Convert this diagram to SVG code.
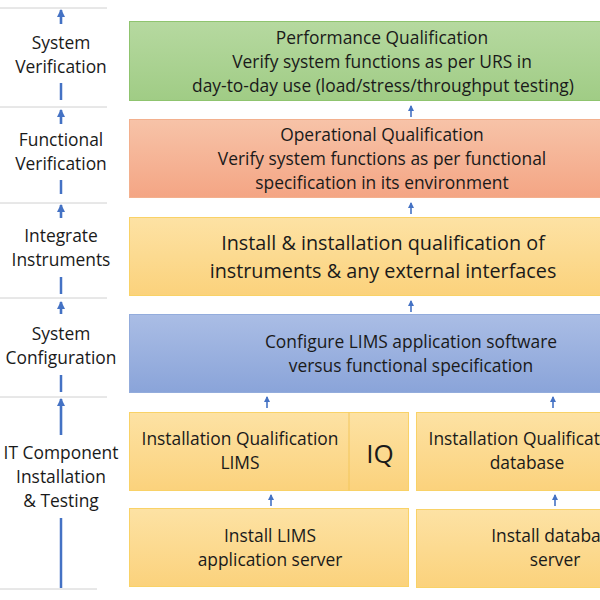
<svg xmlns="http://www.w3.org/2000/svg" width="600" height="600" viewBox="0 0 600 600">
<defs>
<linearGradient id="gGreen" x1="0" y1="0" x2="0" y2="1"><stop offset="0" stop-color="#b6d9a0"/><stop offset="1" stop-color="#a0cc85"/></linearGradient>
<linearGradient id="gRed" x1="0" y1="0" x2="0" y2="1"><stop offset="0" stop-color="#f7c3a8"/><stop offset="1" stop-color="#f4a584"/></linearGradient>
<linearGradient id="gYellow" x1="0" y1="0" x2="0" y2="1"><stop offset="0" stop-color="#fde2a4"/><stop offset="1" stop-color="#fbd27c"/></linearGradient>
<linearGradient id="gBlue" x1="0" y1="0" x2="0" y2="1"><stop offset="0" stop-color="#aabde5"/><stop offset="1" stop-color="#8aa4d9"/></linearGradient>
<marker id="ah" markerUnits="userSpaceOnUse" markerWidth="8" markerHeight="6" refX="5" refY="3" orient="auto"><path d="M0,0 L6,3 L0,6 Z" fill="#4472c4"/></marker>
<marker id="ahL" markerUnits="userSpaceOnUse" markerWidth="10" markerHeight="8" refX="7" refY="4" orient="auto"><path d="M0,0 L8,4 L0,8 Z" fill="#4472c4"/></marker>
</defs>
<style>
.t{font-family:"Open Sans","Liberation Sans",Arial,sans-serif;fill:#1a1a1a;text-anchor:middle}
.side{font-size:17.4px}
.box{font-size:17.4px}
.big{font-size:19.8px}
.sep{stroke:#d0d0d0;stroke-width:1}
.vl{stroke:#4472c4;stroke-width:2.5;fill:none}
.ar{stroke:#4472c4;stroke-width:1.6;fill:none;marker-end:url(#ah)}
.arL{stroke:#4472c4;stroke-width:2.6;fill:none;marker-end:url(#ahL)}
</style>
<rect width="600" height="600" fill="#ffffff"/>

<g id="left-column">
<line class="sep" x1="0" y1="8" x2="107" y2="8"/>
<line class="sep" x1="0" y1="107" x2="107" y2="107"/>
<line class="sep" x1="0" y1="203" x2="107" y2="203"/>
<line class="sep" x1="0" y1="298" x2="107" y2="298"/>
<line class="sep" x1="0" y1="397" x2="107" y2="397"/>
<line class="sep" x1="0" y1="589" x2="97" y2="589"/>
</g>

<g id="connectors">
<line class="arL" x1="61" y1="24" x2="61" y2="10"/>
<line class="vl" x1="61" y1="83" x2="61" y2="100"/>
<line class="arL" x1="61" y1="124" x2="61" y2="110"/>
<line class="vl" x1="61" y1="180" x2="61" y2="194"/>
<line class="arL" x1="61" y1="218" x2="61" y2="205"/>
<line class="vl" x1="61" y1="277" x2="61" y2="294"/>
<line class="arL" x1="61" y1="314" x2="61" y2="302"/>
<line class="vl" x1="61" y1="375" x2="61" y2="392"/>
<line class="arL" x1="61" y1="435" x2="61" y2="399"/>
<line class="vl" x1="61" y1="518" x2="61" y2="588"/>
<line class="ar" x1="411" y1="117" x2="411" y2="106"/>
<line class="ar" x1="411" y1="214" x2="411" y2="203"/>
<line class="ar" x1="411" y1="312" x2="411" y2="301"/>
<line class="ar" x1="267" y1="408" x2="267" y2="397"/>
<line class="ar" x1="553" y1="408" x2="553" y2="397"/>
<line class="ar" x1="271" y1="506" x2="271" y2="495"/>
<line class="ar" x1="555" y1="506" x2="555" y2="495"/>
</g>

<g id="lbl-system-verification"><text class="t side" x="61" y="49">System</text><text class="t side" x="61" y="73">Verification</text></g>
<g id="lbl-functional-verification"><text class="t side" x="61" y="146">Functional</text><text class="t side" x="61" y="170">Verification</text></g>
<g id="lbl-integrate-instruments"><text class="t side" x="61" y="242">Integrate</text><text class="t side" x="61" y="266">Instruments</text></g>
<g id="lbl-system-configuration"><text class="t side" x="61" y="340">System</text><text class="t side" x="61" y="364">Configuration</text></g>
<g id="lbl-it-component"><text class="t side" x="61" y="459">IT Component</text><text class="t side" x="61" y="483">Installation</text><text class="t side" x="61" y="507">&amp; Testing</text></g>

<g id="pq">
<rect x="129.5" y="21.5" width="480" height="79" fill="url(#gGreen)" stroke="#8fc46f"/>
<text class="t box" x="382" y="44">Performance Qualification</text>
<text class="t box" x="382" y="68">Verify system functions as per URS in</text>
<text class="t box" x="383" y="92">day-to-day use (load/stress/throughput testing)</text>
</g>
<g id="oq">
<rect x="129.5" y="119.5" width="480" height="78" fill="url(#gRed)" stroke="#f3b08e"/>
<text class="t box" x="382" y="141">Operational Qualification</text>
<text class="t box" x="382" y="165">Verify system functions as per functional</text>
<text class="t box" x="382" y="189">specification in its environment</text>
</g>
<g id="instruments">
<rect x="129.5" y="217.5" width="480" height="78" fill="url(#gYellow)" stroke="#f9d267"/>
<text class="t big" x="383" y="250">Install &amp; installation qualification of</text>
<text class="t big" x="383" y="278">instruments &amp; any external interfaces</text>
</g>
<g id="configure">
<rect x="129.5" y="314.5" width="480" height="78" fill="url(#gBlue)" stroke="#93acdc"/>
<text class="t box" x="411" y="348">Configure LIMS application software</text>
<text class="t box" x="411" y="372">versus functional specification</text>
</g>
<g id="iq-lims">
<rect x="129.5" y="412.5" width="279" height="78" fill="url(#gYellow)" stroke="#f9d267"/>
<line x1="349" y1="412.5" x2="349" y2="490.5" stroke="#f3c65a"/>
<text class="t box" x="240" y="445">Installation Qualification</text>
<text class="t box" x="240" y="469">LIMS</text>
<text class="t" x="380" y="463" font-size="26">IQ</text>
</g>
<g id="iq-database">
<rect x="416.5" y="412.5" width="200" height="78" fill="url(#gYellow)" stroke="#f9d267"/>
<text class="t box" x="527" y="445">Installation Qualification</text>
<text class="t box" x="527" y="469">database</text>
</g>
<g id="install-lims">
<rect x="129.5" y="508.5" width="279" height="78" fill="url(#gYellow)" stroke="#f9d267"/>
<text class="t box" x="270" y="542">Install LIMS</text>
<text class="t box" x="270" y="566">application server</text>
</g>
<g id="install-database">
<rect x="416.5" y="509.5" width="200" height="78" fill="url(#gYellow)" stroke="#f9d267"/>
<text class="t box" x="555" y="542">Install database</text>
<text class="t box" x="555" y="566">server</text>
</g>
</svg>
